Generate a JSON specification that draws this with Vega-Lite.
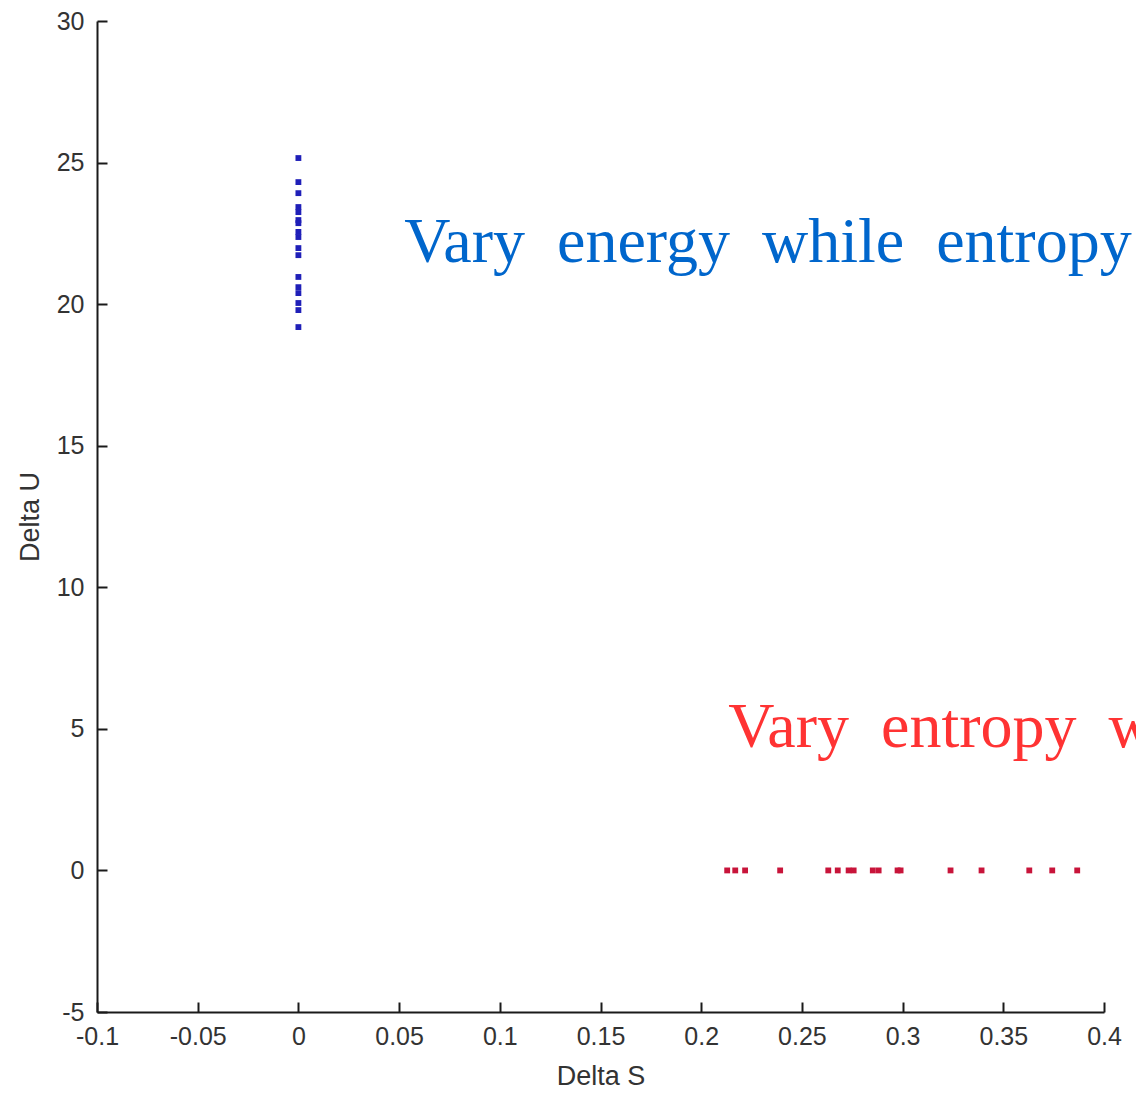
{
  "$schema": "https://vega.github.io/schema/vega-lite/v6.json",
  "width": 1007,
  "height": 991,
  "autosize": {"type": "none"},
  "padding": {"left": 97, "top": 21, "right": 32, "bottom": 83},
  "background": "white",
  "config": {
    "view": {"stroke": null},
    "axis": {
      "grid": false,
      "domainColor": "#1a1a1a",
      "domainWidth": 2,
      "tickColor": "#1a1a1a",
      "tickWidth": 2,
      "tickSize": -10,
      "labelFont": "Liberation Sans Narrow, Liberation Sans, Arial",
      "labelFontSize": 25,
      "labelColor": "#333333",
      "labelFlush": false,
      "labelOverlap": false,
      "labelBound": false,
      "titleFont": "Liberation Sans Narrow, Liberation Sans, Arial",
      "titleFontSize": 27,
      "titleFontWeight": "normal",
      "titleColor": "#333333"
    }
  },
  "datasets": {
    "pts": [
      {"S": 0, "U": 25.16, "series": "energy"},
      {"S": 0, "U": 24.31, "series": "energy"},
      {"S": 0, "U": 23.92, "series": "energy"},
      {"S": 0, "U": 23.43, "series": "energy"},
      {"S": 0, "U": 23.25, "series": "energy"},
      {"S": 0, "U": 22.97, "series": "energy"},
      {"S": 0, "U": 22.86, "series": "energy"},
      {"S": 0, "U": 22.55, "series": "energy"},
      {"S": 0, "U": 22.37, "series": "energy"},
      {"S": 0, "U": 21.98, "series": "energy"},
      {"S": 0, "U": 21.73, "series": "energy"},
      {"S": 0, "U": 20.96, "series": "energy"},
      {"S": 0, "U": 20.6, "series": "energy"},
      {"S": 0, "U": 20.39, "series": "energy"},
      {"S": 0, "U": 20.04, "series": "energy"},
      {"S": 0, "U": 19.79, "series": "energy"},
      {"S": 0, "U": 19.19, "series": "energy"},
      {"S": 0.2129, "U": 0, "series": "entropy"},
      {"S": 0.2169, "U": 0, "series": "entropy"},
      {"S": 0.2218, "U": 0, "series": "entropy"},
      {"S": 0.2392, "U": 0, "series": "entropy"},
      {"S": 0.2631, "U": 0, "series": "entropy"},
      {"S": 0.2678, "U": 0, "series": "entropy"},
      {"S": 0.2732, "U": 0, "series": "entropy"},
      {"S": 0.2757, "U": 0, "series": "entropy"},
      {"S": 0.2852, "U": 0, "series": "entropy"},
      {"S": 0.2881, "U": 0, "series": "entropy"},
      {"S": 0.2975, "U": 0, "series": "entropy"},
      {"S": 0.299, "U": 0, "series": "entropy"},
      {"S": 0.3238, "U": 0, "series": "entropy"},
      {"S": 0.3392, "U": 0, "series": "entropy"},
      {"S": 0.3629, "U": 0, "series": "entropy"},
      {"S": 0.3743, "U": 0, "series": "entropy"},
      {"S": 0.3867, "U": 0, "series": "entropy"}
    ],
    "notes": [
      {"S": 0.0525, "U": 21.49, "series": "energy", "label": "Vary\u00a0\u00a0energy\u00a0\u00a0while\u00a0\u00a0entropy"},
      {"S": 0.2134, "U": 4.36, "series": "entropy", "label": "Vary\u00a0\u00a0entropy\u00a0\u00a0w"}
    ]
  },
  "resolve": {"scale": {"color": "independent"}},
  "layer": [
    {
      "data": {"name": "pts"},
      "mark": {"type": "point", "shape": "square", "filled": true, "size": 34, "opacity": 1},
      "encoding": {
        "x": {
          "field": "S", "type": "quantitative",
          "scale": {"domain": [-0.1, 0.4], "nice": false, "zero": false},
          "axis": {
            "title": "Delta S",
            "values": [-0.1, -0.05, 0, 0.05, 0.1, 0.15, 0.2, 0.25, 0.3, 0.35, 0.4],
            "labelExpr": "'' + datum.value",
            "labelPadding": 22,
            "titlePadding": 14
          }
        },
        "y": {
          "field": "U", "type": "quantitative",
          "scale": {"domain": [-5, 30], "nice": false, "zero": false},
          "axis": {
            "title": "Delta U",
            "values": [-5, 0, 5, 10, 15, 20, 25, 30],
            "labelExpr": "'' + datum.value",
            "labelPadding": 23,
            "titlePadding": 12
          }
        },
        "color": {
          "field": "series", "type": "nominal",
          "scale": {"domain": ["energy", "entropy"], "range": ["#1f1fb8", "#c8143a"]},
          "legend": null
        }
      }
    },
    {
      "data": {"name": "notes"},
      "mark": {"type": "text", "align": "left", "baseline": "alphabetic", "font": "Liberation Serif", "fontSize": 64},
      "encoding": {
        "x": {"field": "S", "type": "quantitative"},
        "y": {"field": "U", "type": "quantitative"},
        "text": {"field": "label"},
        "color": {
          "field": "series", "type": "nominal",
          "scale": {"domain": ["energy", "entropy"], "range": ["#0066cc", "#ff3333"]},
          "legend": null
        }
      }
    }
  ]
}
